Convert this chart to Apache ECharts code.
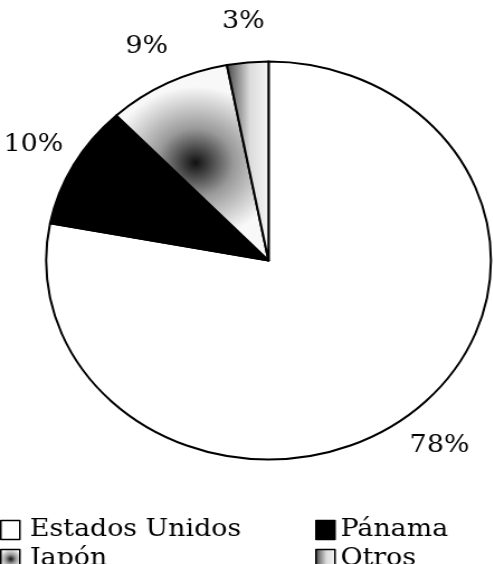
<!DOCTYPE html>
<html><head><meta charset="utf-8">
<script src="https://cdn.jsdelivr.net/npm/echarts@6/dist/echarts.min.js"></script>
<style>
html,body{margin:0;padding:0;background:#fff;overflow:hidden}
#wrap{width:493px;height:564px;overflow:hidden;position:relative}
#c{width:441px;height:564px;transform:scaleX(1.1175);transform-origin:0 0}
</style></head>
<body><div id="wrap"><div id="c"></div></div>
<script>
const categories = ['Estados Unidos', 'Pánama', 'Japón', 'Otros'];
const shares = [78, 10, 9, 3];
const legendRows = [['Estados Unidos', 'Pánama'], ['Japón', 'Otros']];

const FONT = 'DejaVu Serif';
const fills = [
  '#ffffff',
  '#000000',
  new echarts.graphic.RadialGradient(0.52, 0.5, 0.55, [
    {offset: 0, color: '#111111'},
    {offset: 0.45, color: '#9a9a9a'},
    {offset: 1, color: '#f8f8f8'}
  ]),
  new echarts.graphic.LinearGradient(0, 0, 1, 0, [
    {offset: 0, color: '#444444'},
    {offset: 0.55, color: '#dcdcdc'},
    {offset: 1, color: '#f6f6f6'}
  ])
];

const pieData = categories.map((n, i) => ({name: n, value: shares[i], itemStyle: {color: fills[i]}}));
const labelData = categories.map((n, i) => ({name: n, value: shares[i]}));

const rowTops = [516, 545];
const colLefts = [0, 282];
const colPad = [4, 0];
const legends = [];
legendRows.forEach((row, r) => {
  row.forEach((name, c) => {
    legends.push({
      orient: 'horizontal', top: rowTops[r], left: colLefts[c],
      itemWidth: 17, itemHeight: 19, itemGap: 0, padding: 0,
      icon: 'rect', selectedMode: false,
      itemStyle: {borderColor: '#000', borderWidth: 1.5},
      textStyle: {fontFamily: FONT, fontSize: 24, color: '#000', lineHeight: 28,
        padding: [0, 0, 0, colPad[c]]},
      data: [name]
    });
  });
});

const chart = echarts.init(document.getElementById('c'));
chart.setOption({
  animation: false,
  backgroundColor: '#fff',
  legend: legends,
  series: [
    {
      type: 'pie', center: [240.3, 260.5], radius: [0, 199],
      startAngle: 90, clockwise: true, silent: true,
      itemStyle: {borderColor: '#000', borderWidth: 2},
      label: {show: false}, labelLine: {show: false},
      emphasis: {disabled: true},
      data: pieData
    },
    {
      type: 'pie', center: [240.3, 260.5], radius: [226, 248],
      startAngle: 90, clockwise: true, silent: true,
      itemStyle: {color: 'rgba(0,0,0,0)', borderWidth: 0},
      label: {show: true, position: 'inside', formatter: '{c}%',
        fontFamily: FONT, fontSize: 24, color: '#000'},
      labelLine: {show: false},
      emphasis: {disabled: true},
      data: labelData
    }
  ]
});
</script>
</body></html>
